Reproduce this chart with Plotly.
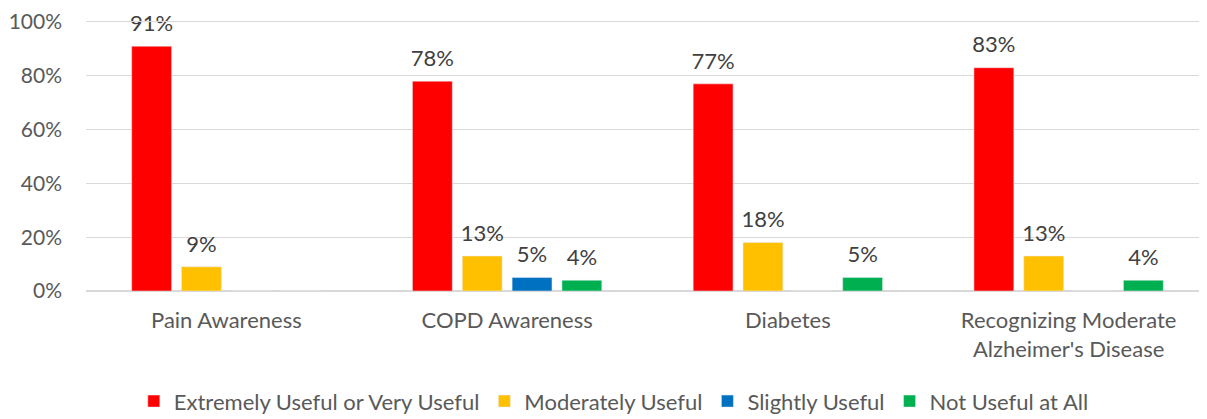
import plotly.graph_objects as go

categories = ["Pain Awareness", "COPD Awareness", "Diabetes",
              "Recognizing Moderate<br>Alzheimer's Disease"]
series_names = ["Extremely Useful or Very Useful", "Moderately Useful",
                "Slightly Useful", "Not Useful at All"]
extremely = [91, 78, 77, 83]
moderately = [9, 13, 18, 13]
slightly = [0, 5, 0, 0]
not_useful = [0, 4, 5, 4]
colors = ["#FF0000", "#FFC000", "#0070C0", "#00B050"]

all_series = [extremely, moderately, slightly, not_useful]

fig = go.Figure()
for name, vals, col in zip(series_names, all_series, colors):
    fig.add_trace(go.Bar(
        x=categories, y=vals, name=name,
        marker=dict(color=col),
    ))

# data labels: invisible markers push the text up a bit above each bar
for i, vals in enumerate(all_series):
    fig.add_trace(go.Scatter(
        x=categories, y=[v if v else None for v in vals],
        mode="markers+text", text=[f"{v}%" if v else "" for v in vals],
        textposition="top center",
        marker=dict(size=14, opacity=0),
        textfont=dict(size=22, color="#404040"),
        cliponaxis=False, showlegend=False, hoverinfo="skip",
    ))

fig.update_layout(
    width=1207, height=419,
    margin=dict(l=78, r=6, t=14, b=136, autoexpand=False),
    barmode="group", bargap=0.29, bargroupgap=0.2,
    scattermode="group", scattergap=0.29,
    plot_bgcolor="white", paper_bgcolor="white",
    font=dict(family="Lato", size=22, color="#595959"),
    showlegend=True,
    legend=dict(orientation="h", x=0.47, xanchor="center", y=-0.41, yanchor="middle",
                font=dict(size=22, color="#595959"), itemwidth=30),
)
fig.update_yaxes(range=[0, 100], dtick=20, ticksuffix="%", showgrid=True,
                 gridcolor="#D9D9D9", gridwidth=1, zeroline=True, zerolinecolor="#D9D9D9",
                 ticks="", showline=False, ticklabelstandoff=23,
                 ticklabeloverflow="allow", tickfont=dict(size=21))
fig.update_xaxes(showline=True, mirror=True, linecolor="#D9D9D9", ticks="",
                 ticklabelstandoff=10)

fig.write_html("out.html")
